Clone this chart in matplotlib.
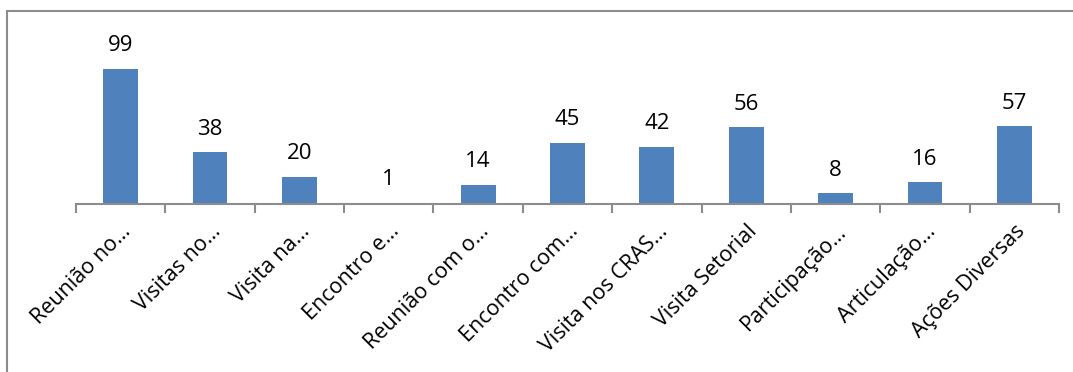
import matplotlib.pyplot as plt
import matplotlib.transforms as mtransforms
from matplotlib.patches import Rectangle

categories = ["Reunião no…", "Visitas no…", "Visita na…", "Encontro e…",
              "Reunião com o…", "Encontro com…", "Visita nos CRAS…",
              "Visita Setorial", "Participação…", "Articulação…", "Ações Diversas"]
values = [99, 38, 20, 1, 14, 45, 42, 56, 8, 16, 57]

plt.rcParams['font.family'] = ['Open Sans', 'DejaVu Sans']

W, H = 1073, 372
fig = plt.figure(figsize=(W / 100, H / 100), dpi=100)
ax = fig.add_axes([76 / W, (H - 204) / H, (1059 - 76) / W, 164 / H])

grey = '#8c8c8c'
x = list(range(len(categories)))
bars = ax.bar(x, values, width=0.39, color='#4f81bd')
for b, v in zip(bars, values):
    ax.annotate(str(v), (b.get_x() + b.get_width() / 2, v), xytext=(0, 9),
                textcoords='offset points', ha='center', va='bottom', fontsize=16)

ax.set_xlim(-0.5, len(categories) - 0.5)
ax.set_ylim(0, 120)
ax.set_xticks([i - 0.5 for i in range(len(categories) + 1)])
ax.set_xticklabels([])
ax.set_xticks(x, minor=True)
ax.set_xticklabels(categories, minor=True, rotation=45, ha='right', va='top',
                   rotation_mode='anchor', fontsize=15.5)
# nudge labels slightly right like the original
shift = mtransforms.ScaledTranslation(6 / 100, 0, fig.dpi_scale_trans)
for lbl in ax.get_xticklabels(minor=True):
    lbl.set_transform(lbl.get_transform() + shift)
ax.tick_params(axis='x', which='major', length=6.5, width=1.5, color=grey, direction='out')
ax.tick_params(axis='x', which='minor', length=0, pad=12)
ax.set_yticks([])
for s in ['left', 'right', 'top']:
    ax.spines[s].set_visible(False)
ax.spines['bottom'].set_color(grey)
ax.spines['bottom'].set_linewidth(1.5)

fig.patches.append(Rectangle((7 / W, -0.1), 1.2, 1.1 - 11 / H, transform=fig.transFigure,
                             fill=False, edgecolor=grey, linewidth=1.5))

fig.savefig('out.png', dpi=100)
